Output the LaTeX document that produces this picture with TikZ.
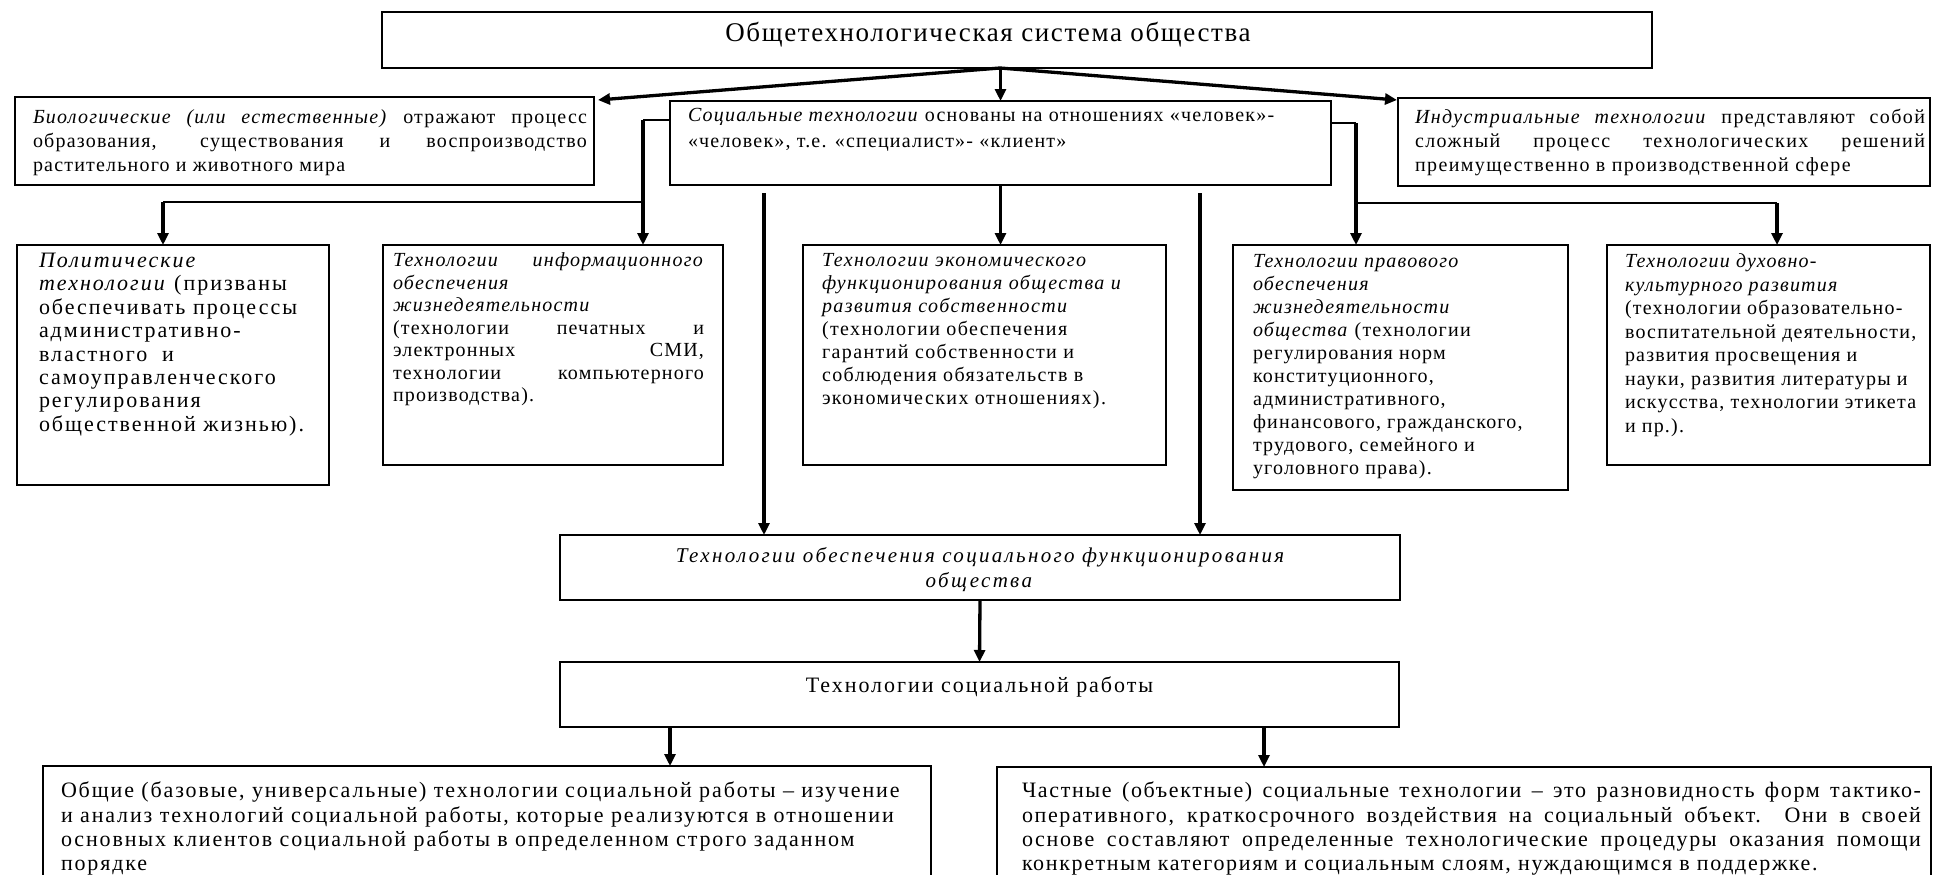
\documentclass[tikz,border=0pt]{standalone}
\usepackage{fontspec}
\setmainfont{Liberation Serif}[LetterSpace=6]
\usetikzlibrary{arrows.meta,calc}
\hyphenpenalty=10000 \exhyphenpenalty=10000 \tolerance=10000
\hbadness=10000 \vbadness=10000 \hfuzz=30pt \vfuzz=60pt
\tikzset{
  boxst/.style={draw=black, line width=1.5pt, anchor=north west, inner sep=0pt, outer sep=0pt},
  thk/.style={line width=3.3pt},
  thn/.style={line width=1.7pt},
  arr/.style={-{Triangle[length=12pt,width=11pt]}}
}
% name, x, y, w, h, left pad, text width, top pad, content
\newcommand\bx[9]{\node[boxst] (#1) at (#2,#3) {\makebox[#4pt][l]{\hspace*{#6pt}\parbox[c][#5pt][t]{#7pt}{\vspace*{#8pt}#9}}};}
\begin{document}
\begin{tikzpicture}[x=1pt,y=-1pt]
\useasboundingbox (0,0) rectangle (1933,875);

\bx{top}{382}{12}{1270}{56}{0}{1212}{10}{\centering\fontsize{27}{30}\selectfont Общетехнологическая система общества}

\bx{bio}{15}{97}{579}{88}{18}{554}{13}{\fontsize{20}{24}\selectfont\textit{Биологические (или естественные)} отражают процесс\linebreak образования, существования и воспроизводство\linebreak растительного и животного мира}

\bx{soc}{670}{101}{661}{84}{18}{620}{7}{\raggedright\fontsize{20}{26}\selectfont\textit{Социальные технологии} основаны на отношениях «человек»-\\«человек», т.е. «специалист»- «клиент»}

\bx{ind}{1398}{98}{532}{88}{17}{510}{11}{\fontsize{20}{24}\selectfont\addfontfeatures{LetterSpace=7}\textit{Индустриальные технологии} представляют собой\linebreak сложный процесс технологических решений\linebreak преимущественно в производственной сфере}

\bx{pol}{17}{245}{312}{240}{22}{285}{8}{\raggedright\fontsize{22}{23.4}\selectfont\addfontfeatures{LetterSpace=9}\textit{Политические}\\\textit{технологии} (призваны\\обеспечивать процессы\\административно-\\властного\ \ и\\самоуправленческого\\регулирования\\общественной жизнью).}

\bx{info}{383}{245}{340}{220}{10}{311}{8}{\fontsize{20}{22.5}\selectfont\textit{Технологии информационного}\linebreak\textit{обеспечения}\newline\textit{жизнедеятельности}\newline(технологии печатных и\linebreak электронных СМИ,\linebreak технологии компьютерного\linebreak производства).}

\bx{econ}{803}{245}{363}{220}{19}{335}{8}{\raggedright\fontsize{20}{23}\selectfont\addfontfeatures{LetterSpace=7}\textit{Технологии экономического\\функционирования общества и\\развития собственности}\\(технологии обеспечения\\гарантий собственности и\\соблюдения обязательств в\\экономических отношениях).}

\bx{legal}{1233}{245}{335}{245}{20}{310}{9}{\raggedright\fontsize{20}{23}\selectfont\textit{Технологии правового\\обеспечения\\жизнедеятельности\\общества} (технологии\\регулирования норм\\конституционного,\\административного,\\финансового, гражданского,\\трудового, семейного и\\уголовного права).}

\bx{spir}{1607}{245}{323}{220}{18}{303}{9}{\raggedright\fontsize{20}{23.5}\selectfont\textit{Технологии духовно-\\культурного развития}\\(технологии образовательно-\\воспитательной деятельности,\\развития просвещения и\\науки, развития литературы и\\искусства, технологии этикета\\и пр.).}

\bx{func}{560}{535}{840}{65}{0}{840}{12}{\centering\fontsize{21}{25}\selectfont\addfontfeatures{LetterSpace=11}\textit{Технологии обеспечения социального функционирования\\общества}}

\bx{socwork}{560}{662}{839}{65}{0}{839}{15}{\centering\fontsize{22}{25}\selectfont\addfontfeatures{LetterSpace=9}Технологии социальной работы}

\bx{bl}{43}{766}{888}{150}{18}{870}{16}{\raggedright\fontsize{22}{24.3}\selectfont\addfontfeatures{LetterSpace=8.5}Общие (базовые, универсальные) технологии социальной работы – изучение\\и анализ технологий социальной работы, которые реализуются в отношении\\основных клиентов социальной работы в определенном строго заданном\\порядке}

\bx{br}{997}{767}{934}{150}{25}{899}{15}{\fontsize{22}{24.3}\selectfont\addfontfeatures{LetterSpace=7.5}Частные (объектные) социальные технологии – это разновидность форм тактико-\linebreak оперативного, краткосрочного воздействия на социальный объект. Они в своей\linebreak основе составляют определенные технологические процедуры оказания помощи\linebreak конкретным категориям и социальным слоям, нуждающимся в поддержке.}

% connectors
\coordinate (fk) at (1000,68);
\draw[thk,arr] (fk) -- ($(bio.north east)+(4,3)$);
\draw[thk,arr] (fk) -- ($(ind.north west)+(-1,2)$);
\draw[thk,arr] (top.south -| soc.north) -- (soc.north);

\coordinate (jl) at (643,120);
\coordinate (jm) at (643,202);
\coordinate (pl) at (163,202);
\draw[thn] (soc.west |- jl) -- (jl);
\draw[thk,arr] (jl) -- (jl |- info.north);
\draw[thn] (jm) -- (pl);
\draw[thk,arr] (pl) -- (pl |- pol.north);

\coordinate (jr) at (1356,123);
\coordinate (jn) at (1356,203);
\coordinate (sp) at (1777,203);
\draw[thn] (soc.east |- jr) -- (jr);
\draw[thk,arr] (jr) -- (jr |- legal.north);
\draw[thn] (jn) -- (sp);
\draw[thk,arr] (sp) -- (sp |- spir.north);

\draw[thk,arr] (soc.south) -- (soc.south |- econ.north);

\coordinate (ll) at (764,193);
\coordinate (lr) at (1200,193);
\draw[thk,arr] (ll) -- (ll |- func.north);
\draw[thk,arr] (lr) -- (lr |- func.north);

\draw[thk,arr] (func.south) -- (socwork.north);

\coordinate (ba) at (670,0);
\coordinate (bb) at (1264,0);
\draw[thk,arr] (socwork.south -| ba) -- (bl.north -| ba);
\draw[thk,arr] (socwork.south -| bb) -- (br.north -| bb);
\end{tikzpicture}
\end{document}
